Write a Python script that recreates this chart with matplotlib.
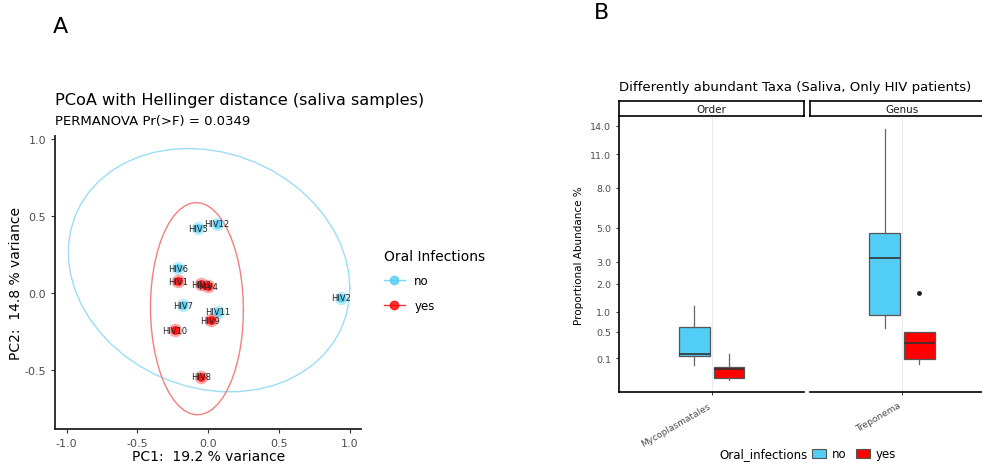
import numpy as np
import matplotlib
matplotlib.use("Agg")
from matplotlib import pyplot as plt
from matplotlib.lines import Line2D
from matplotlib.patches import Patch

plt.rcParams["axes.unicode_minus"] = False

# ---- PCoA data (panel A)
samples = ["HIV5", "HIV12", "HIV6", "HIV1", "HIV3", "HIV4",
           "HIV7", "HIV11", "HIV9", "HIV10", "HIV8", "HIV2"]
pc1 = [-0.073, 0.064, -0.21, -0.21, -0.05, 0.0,
       -0.18, 0.07, 0.017, -0.234, -0.05, 0.94]
pc2 = [0.42, 0.448, 0.16, 0.076, 0.058, 0.043,
       -0.078, -0.12, -0.175, -0.24, -0.54, -0.03]
infection = ["no", "no", "no", "yes", "yes", "yes",
             "no", "no", "yes", "yes", "yes", "no"]

# ---- boxplot stats (panel B), order: no, yes
taxa = ["Mycoplasmatales", "Treponema"]
facets = ["Order", "Genus"]
q1 = {"Mycoplasmatales": [0.118, 0.0006], "Treponema": [0.914, 0.092]}
med = {"Mycoplasmatales": [0.145, 0.023], "Treponema": [3.21, 0.295]}
q3 = {"Mycoplasmatales": [0.60, 0.036], "Treponema": [4.66, 0.491]}
whislo = {"Mycoplasmatales": [0.046, 0.0], "Treponema": [0.578, 0.053]}
whishi = {"Mycoplasmatales": [1.18, 0.145], "Treponema": [13.6, 0.491]}
fliers = {"Mycoplasmatales": [[], []], "Treponema": [[], [1.64]]}
yticks = [0.1, 0.5, 1.0, 2.0, 3.0, 5.0, 8.0, 11.0, 14.0]

colors = {"no": "#52CDF5", "yes": "#FF0000"}
ell_colors = {"no": "#9ADDF5", "yes": "#F47F7F"}
grey = "#4D4D4D"


def cov_trob(x, nu=5, maxit=25, tol=0.01):
    # same as MASS::cov.trob, used by ggplot's stat_ellipse
    n, p = x.shape
    wt = np.ones(n)
    loc = x.mean(axis=0)
    w = np.sqrt(wt)
    for _ in range(maxit):
        w0 = w
        X = x - loc
        _, d, vt = np.linalg.svd(np.sqrt(w / w.sum())[:, None] * X, full_matrices=False)
        wX = X @ vt.T @ np.diag(1 / d)
        Q = (wX ** 2).sum(axis=1)
        w = (wt * (nu + p)) / (nu + Q)
        loc = (w[:, None] * x).sum(axis=0) / w.sum()
        if np.all(np.abs(w - w0) < tol):
            break
    sX = np.sqrt(w)[:, None] * X
    return loc, sX.T @ sX / wt.sum()


def ellipse(x, level=0.95, segments=51):
    loc, cov = cov_trob(x)
    dfd = x.shape[0] - 1
    qf = dfd / 2 * ((1 - level) ** (-2 / dfd) - 1)  # F(2, dfd) quantile
    radius = np.sqrt(2 * qf)
    t = np.linspace(0, 2 * np.pi, segments + 1)
    unit = np.column_stack([np.cos(t), np.sin(t)])
    return loc + radius * unit @ np.linalg.cholesky(cov).T


fig = plt.figure(figsize=(9.82, 4.64), dpi=100)

# ================= panel A
ax = fig.add_axes([0.056, 0.0733, 0.312, 0.631])
x = np.array(pc1)
y = np.array(pc2)
grp = np.array(infection)
for g in ["no", "yes"]:
    m = grp == g
    e = ellipse(np.column_stack([x[m], y[m]]))
    ax.plot(e[:, 0], e[:, 1], color=ell_colors[g], lw=1.0)
    ax.scatter(x[m], y[m], s=95, color=colors[g], alpha=0.35, lw=0, zorder=3)
    ax.scatter(x[m], y[m], s=40, color=colors[g], alpha=0.85, lw=0, zorder=3)
for name, xi, yi in zip(samples, pc1, pc2):
    ax.text(xi, yi, name, fontsize=6, ha="center", va="center", color="#222222", zorder=4)

ax.set_xlim(-1.082, 1.083)
ax.set_ylim(-0.879, 1.015)
ax.set_xticks([-1.0, -0.5, 0.0, 0.5, 1.0])
ax.set_yticks([-0.5, 0.0, 0.5, 1.0])
for s in ["top", "right"]:
    ax.spines[s].set_visible(False)
for s in ["left", "bottom"]:
    ax.spines[s].set_linewidth(1.3)
    ax.spines[s].set_color("#222222")
ax.tick_params(labelsize=8, labelcolor=grey, length=3, width=0.8, color="#333333")
ax.set_xlabel("PC1:  19.2 % variance", fontsize=10, labelpad=1)
ax.set_ylabel("PC2:  14.8 % variance", fontsize=10, labelpad=1)
fig.text(0.056, 1 - 101 / 464, "PCoA with Hellinger distance (saliva samples)",
         fontsize=11.6, va="center", ha="left")
fig.text(0.056, 1 - 122 / 464, "PERMANOVA Pr(>F) = 0.0349",
         fontsize=9.5, va="center", ha="left")

handles = [Line2D([], [], color=colors[g], marker="o", markersize=6, lw=1, alpha=0.8)
           for g in ["no", "yes"]]
leg = fig.legend(handles, ["no", "yes"], title="Oral Infections", loc="upper left",
                 bbox_to_anchor=(373 / 982, 1 - 239 / 464), frameon=False,
                 fontsize=8.5, title_fontsize=10, labelspacing=1.0, handlelength=1.8)
leg._legend_box.align = "left"


# ================= panel B
def fwd(v):
    return np.sign(v) * np.sqrt(np.abs(v))


def inv(v):
    return np.sign(v) * v ** 2


panels = [[0.6307, 0.1524, 0.188, 0.5933], [0.8248, 0.1524, 0.1874, 0.5933]]
offsets = [-0.1125, 0.1125]
for i, (taxon, facet) in enumerate(zip(taxa, facets)):
    bx = fig.add_axes(panels[i])
    bx.set_yscale("function", functions=(fwd, inv))
    stats = []
    for j in range(2):
        stats.append(dict(q1=q1[taxon][j], med=med[taxon][j], q3=q3[taxon][j],
                          whislo=whislo[taxon][j], whishi=whishi[taxon][j],
                          fliers=fliers[taxon][j]))
    parts = bx.bxp(stats, positions=[1 + o for o in offsets], widths=0.2,
                   patch_artist=True, showcaps=False, manage_ticks=False,
                   boxprops=dict(edgecolor="#555555", linewidth=0.9),
                   whiskerprops=dict(color="#666666", linewidth=0.9),
                   medianprops=dict(color="#333333", linewidth=1.2),
                   flierprops=dict(marker="o", markersize=2.5, markerfacecolor="#222222",
                                   markeredgecolor="#222222"))
    for patch, g in zip(parts["boxes"], ["no", "yes"]):
        patch.set_facecolor(colors[g])
    bx.set_xlim(0.4, 1.6)
    bx.set_ylim(-0.035, 14.96)
    bx.set_xticks([1])
    bx.set_xticklabels([taxon], rotation=30, ha="right", fontsize=6.5, color=grey)
    bx.grid(axis="x", color="#EBEBEB", lw=0.8)
    bx.set_axisbelow(True)
    for s in ["top", "right"]:
        bx.spines[s].set_visible(False)
    bx.spines["bottom"].set_linewidth(1.2)
    if i == 0:
        bx.spines["left"].set_linewidth(1.2)
        bx.set_yticks(yticks)
        bx.set_yticklabels([f"{t:.1f}" for t in yticks], fontsize=6.8, color=grey)
        bx.yaxis.set_minor_locator(matplotlib.ticker.NullLocator())
        bx.set_ylabel("Proportional Abundance %", fontsize=7.5, labelpad=4)
    else:
        bx.spines["left"].set_visible(False)
        bx.set_yticks([])
        bx.yaxis.set_minor_locator(matplotlib.ticker.NullLocator())
    bx.tick_params(axis="both", length=2.5, width=0.7, color="#333333")

    strip = fig.add_axes([panels[i][0], 0.7472, panels[i][2], 0.0336])
    strip.set_xticks([])
    strip.set_yticks([])
    for s in strip.spines.values():
        s.set_linewidth(1.2)
    strip.text(0.5, 0.5, facet, fontsize=7.5, ha="center", va="center",
               color="#1A1A1A", transform=strip.transAxes)

fig.text(0.6307, 1 - 88 / 464, "Differently abundant Taxa (Saliva, Only HIV patients)",
         fontsize=9.5, ha="left", va="center")

fig.text(1 - 0.2670, 1 - 455 / 464, "Oral_infections", fontsize=8.5, ha="left", va="center")
keys = [Patch(facecolor=colors[g], edgecolor="#555555", lw=0.8) for g in ["no", "yes"]]
fig.legend(keys, ["no", "yes"], loc="center left", bbox_to_anchor=(806 / 982, 1 - 455 / 464),
           ncol=2, frameon=False, fontsize=8.5, handlelength=1.2, handleheight=0.9,
           columnspacing=0.8, handletextpad=0.5, borderpad=0)

fig.text(60 / 982, 1 - 27 / 464, "A", fontsize=16, ha="center", va="center")
fig.text(602 / 982, 1 - 13 / 464, "B", fontsize=16, ha="center", va="center")

fig.savefig("out.png", dpi=100)
